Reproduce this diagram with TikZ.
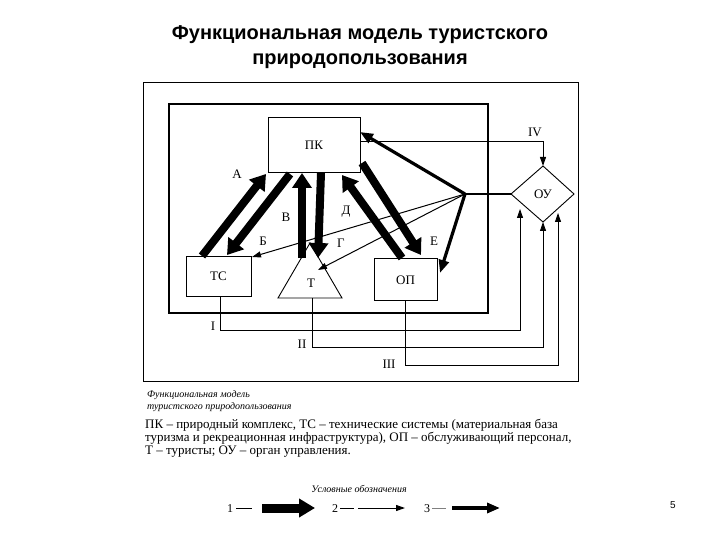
\documentclass[tikz,border=0pt]{standalone}
\usepackage{fontspec}
\setmainfont{Liberation Serif}
\newfontfamily\titlefont{Liberation Sans}
\usetikzlibrary{arrows.meta}
\begin{document}
\begin{tikzpicture}[x=1pt,y=-1pt,
  box/.style={draw,line width=0.9pt,inner sep=0pt},
  thick arr/.style={line width=8pt,-{Triangle[length=15pt,width=19pt]}},
  med arr/.style={line width=3.2pt,-{Triangle[length=13pt,width=10pt]}},
  thin arr/.style={line width=1pt,-{Triangle[length=9pt,width=6pt]}},
  lab/.style={font=\fontsize{13}{14}\selectfont},
  every node/.style={inner sep=0pt}]
\useasboundingbox (0,0) rectangle (720,540);
\node[font=\titlefont\bfseries\fontsize{20}{25}\selectfont,align=center] (title) at (360,47) {Функциональная модель туристского\\природопользования};
% frames
\draw[line width=1pt] (143,83) rectangle (578,381);
\draw[line width=1.8pt] (169,104) rectangle (488,313);
% nodes
\node[box,minimum width=92pt,minimum height=55pt] (pk) at (314,144.5) {};
\node[lab] (pkl) at (314,145) {ПК};
\node[box,minimum width=65pt,minimum height=40pt] (ts) at (218.5,276) {};
\node[lab] (tsl) at (218.5,276) {ТС};
\node[box,minimum width=63pt,minimum height=42pt] (op) at (405.5,279) {};
\node[lab] (opl) at (405.5,280) {ОП};
\draw[line width=0.9pt] (310,243) coordinate (tapex) -- (342,298) -- (278,298) -- cycle;
\node[lab] (tl) at (311,283) {Т};
\draw[line width=0.9pt] (543,166) -- (574,194) -- (543,222) -- (511,194) -- cycle;
\node[lab] (ou) at (543,194) {ОУ};
\coordinate (hub) at (465,194);
% thick arrows
\draw[thick arr] (202,256) -- (266,174);
\draw[thick arr] (290,174) -- (227,255);
\draw[thick arr] (302,258) -- (302,173);
\draw[thick arr] (321,173) -- (318,258);
\draw[thick arr] (402,258) -- (342,175);
\draw[thick arr] (362,163) -- (421,255);
% hub arrows
\draw[line width=1.3pt] (hub) -- (511,194);
\draw[med arr] (hub) -- (360,132);
\draw[med arr] (hub) -- (440,273);
\draw[thin arr] (hub) -- (252,257);
\draw[thin arr] (hub) -- (318,270);
% IV
\draw[thin arr] (360,142) -- (543,142) -- (543,166);
% I, II, III
\draw[line width=0.8pt,-{Triangle[length=9pt,width=6pt]}] (220,296) -- (220,330) -- (520,330) -- (520,209);
\draw[line width=0.8pt,-{Triangle[length=9pt,width=6pt]}] (312,298) -- (312,347) -- (543,347) -- (543,222);
\draw[line width=0.8pt,-{Triangle[length=9pt,width=6pt]}] (405,300) -- (405,365) -- (558,365) -- (558,213);
% labels
\node[lab] (la) at (237,174) {А};
\node[lab] (lb) at (263,241) {Б};
\node[lab] (lv) at (286,217) {В};
\node[lab] (lg) at (341,243) {Г};
\node[lab] (ld) at (346,212) {Д};
\node[lab] (le) at (434,241) {Е};
\node[lab] (l1) at (213,326) {I};
\node[lab] (l2) at (302,344) {II};
\node[lab] (l3) at (389,364) {III};
\node[lab] (l4) at (535,132) {IV};
% caption
\node[anchor=west,font=\itshape\fontsize{10}{12.5}\selectfont,align=left] (cap) at (147,401) {Функциональная модель\\туристского природопользования};
\node[anchor=west,font=\fontsize{13}{13.2}\selectfont,align=left] (desc) at (145,438) {ПК -- природный комплекс, ТС -- технические системы (материальная база\\туризма и рекреационная инфраструктура), ОП -- обслуживающий персонал,\\Т -- туристы; ОУ -- орган управления.};
\node[font=\itshape\fontsize{10}{10}\selectfont] (leg) at (359,489) {Условные обозначения};
\node[font=\fontsize{12}{12}\selectfont] (n1) at (230,509) {1};
\node[font=\fontsize{12}{12}\selectfont] (n2) at (335,509) {2};
\node[font=\fontsize{12}{12}\selectfont] (n3) at (427,509) {3};
\draw[line width=0.6pt] (236,508) -- (252,508);
\draw[line width=0.6pt] (340,508) -- (354,508);
\draw[line width=0.4pt,gray] (432,508) -- (446,508);
\draw[line width=9pt,-{Triangle[length=16pt,width=18pt]}] (262,508) -- (315,508);
\draw[thin arr] (358,508) -- (405,508);
\draw[med arr] (452,508) -- (500,508);
\node[font=\titlefont\fontsize{10}{12}\selectfont] (pg) at (673,505) {5};
\end{tikzpicture}
\end{document}
